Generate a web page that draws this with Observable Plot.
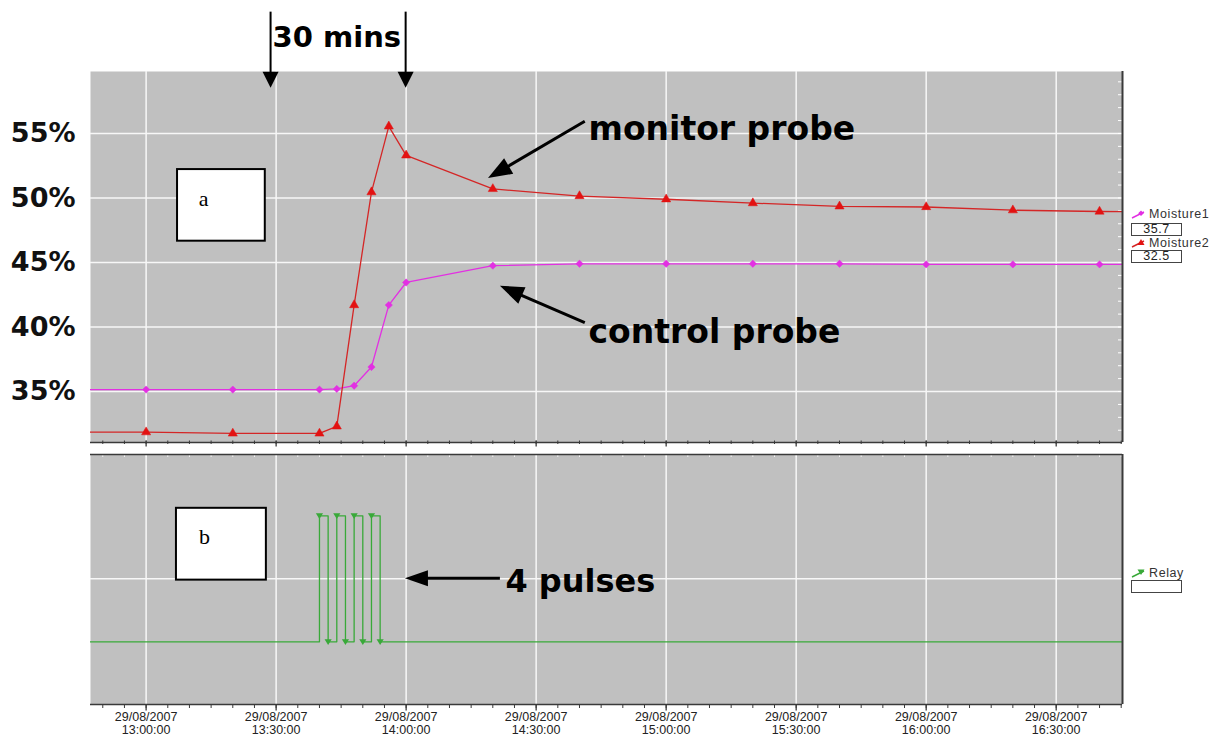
<!DOCTYPE html>
<html lang="en">
<head>
<meta charset="utf-8">
<title>Moisture probes and relay pulses, 29/08/2007</title>
<script src="https://cdn.jsdelivr.net/npm/d3@7"></script>
<script src="https://cdn.jsdelivr.net/npm/@observablehq/plot@0.6"></script>
<style>
  html, body { margin: 0; padding: 0; background: #fff; }
  #chart { position: relative; width: 1225px; height: 738px; overflow: hidden; background: #fff; }
  #chart > svg { position: absolute; left: 0; }
  .key { position: absolute; left: 1131px; height: 14px; display: flex; align-items: center;
         font: 12.5px Arial, "Liberation Sans", sans-serif; color: #333; letter-spacing: 0.6px; white-space: nowrap; }
  .key svg { width: 16px; height: 12px; margin-right: 2px; }
  .readout { position: absolute; left: 1131px; width: 49px; border: 1px solid #444; background: #fff;
             font: 12.5px Arial, "Liberation Sans", sans-serif; color: #222; text-align: center; letter-spacing: 0.6px; }
</style>
</head>
<body>
<div id="chart"></div>
<script>
// ---- logged data --------------------------------------------------------
const DAY = "2007-08-29";
const at = t => new Date(`${DAY}T${t.length === 5 ? t + ":00" : t}Z`);

// probe readings (time of day, % moisture)
const sampleTimes = ["12:40", "13:00", "13:20", "13:40", "13:44", "13:48", "13:52", "13:56", "14:00",
                     "14:20", "14:40", "15:00", "15:20", "15:40", "16:00", "16:20", "16:40", "17:00"];
const moisture1 = [35.15, 35.15, 35.15, 35.15, 35.2, 35.45, 36.9, 41.7, 43.45,
                   44.75, 44.9, 44.9, 44.9, 44.9, 44.85, 44.85, 44.85, 44.85];
const moisture2 = [31.85, 31.85, 31.75, 31.75, 32.3, 41.7, 50.45, 55.55, 53.3,
                   50.7, 50.15, 49.9, 49.6, 49.35, 49.3, 49.05, 48.95, 48.9];

// relay state (0 = off, 1 = on)
const relayTimes = ["12:40", "13:40", "13:42", "13:44", "13:46", "13:48", "13:50", "13:52", "13:54", "17:00"];
const relayState = [0, 1, 0, 1, 0, 1, 0, 1, 0, 0];

// axis ticks
const percentTicks = [35, 40, 45, 50, 55];
const halfHourTicks = ["13:00", "13:30", "14:00", "14:30", "15:00", "15:30", "16:00", "16:30"];

// legend readouts
const keyNames = ["Moisture1", "Moisture2", "Relay"];
const keyReadouts = ["35.7", "32.5", ""];

// ---- derived tables -----------------------------------------------------
const readings = sampleTimes.map((t, i) => ({time: at(t), m1: moisture1[i], m2: moisture2[i]}));
const relay = relayTimes.map((t, i) => ({time: at(t), state: relayState[i]}));

const xDomain = [at("12:47:10"), at("16:45:18")];
const yTop = [31.05, 59.8];
const yBottom = [-0.497, 1.487];
const halfHours = halfHourTicks.map(at);
const fiveMinutes = d3.utcMinute.every(5).range(xDomain[0], xDomain[1]);
const percentMinor = d3.range(32, 60);
const dateLabel = d3.utcFormat("%d/%m/%Y\n%H:%M:%S");

// ---- styling ------------------------------------------------------------
const W = 1225, ML = 90, MR = 103;
const GRAY = "#c0c0c0", GRID = "#f7f7f7", EDGE = "#3a3a3a";
const MAGENTA = "#e230e2", RED = "#e31212", REDLINE = "#d42626", GREEN = "#39a939";
const HAND = "DejaVu Sans, Verdana, sans-serif";
const SERIF = "Liberation Serif, Times New Roman, serif";
const SANS = "Arial, Liberation Sans, sans-serif";

// downward triangle used for the relay markers
const triangleDown = {
  draw(context, size) {
    const r = Math.sqrt(size / Math.PI);
    context.moveTo(-r, -r * 0.7);
    context.lineTo(r, -r * 0.7);
    context.lineTo(0, r * 0.9);
    context.closePath();
  }
};

// annotation arrows with filled heads, placed through the plot's scales
function arrows(list, yDomain, {stroke = "#000", strokeWidth = 3, head = 22, spread = 9} = {}) {
  return (index, scales, values, dims) => {
    const sx = typeof scales.x === "function" ? scales.x
      : d3.scaleUtc(xDomain, [dims.marginLeft, dims.width - dims.marginRight]);
    const sy = typeof scales.y === "function" ? scales.y
      : d3.scaleLinear(yDomain, [dims.height - dims.marginBottom, dims.marginTop]);
    const g = d3.create("svg:g");
    for (const a of list) {
      const x1 = sx(at(a.from[0])), y1 = sy(a.from[1]);
      const x2 = sx(at(a.to[0])), y2 = sy(a.to[1]);
      const ang = Math.atan2(y2 - y1, x2 - x1), c = Math.cos(ang), s = Math.sin(ang);
      const bx = x2 - head * c, by = y2 - head * s;
      g.append("line")
        .attr("x1", x1).attr("y1", y1).attr("x2", bx + c).attr("y2", by + s)
        .attr("stroke", stroke).attr("stroke-width", strokeWidth);
      g.append("path")
        .attr("d", `M${x2},${y2}L${bx - spread * s},${by + spread * c}L${bx + spread * s},${by - spread * c}Z`)
        .attr("fill", stroke);
    }
    return g.node();
  };
}

// ---- annotations (time, value) -----------------------------------------
const spanArrows = [
  {from: ["13:28:50", 64.4], to: ["13:28:50", 58.5]},
  {from: ["14:00", 64.4], to: ["14:00", 58.5]}
];
const probeArrows = [
  {from: ["14:41:20", 55.9], to: ["14:19:00", 51.5]},
  {from: ["14:41:20", 40.3], to: ["14:21:45", 43.15]}
];
const pulseArrows = [{from: ["14:21:45", 0.5], to: ["13:59:50", 0.5]}];

const spanNote = [{t: "13:44", v: 62.4, text: "30 mins"}];
const probeNotes = [
  {t: "14:42:05", v: 55.3, text: "monitor probe"},
  {t: "14:42:05", v: 39.55, text: "control probe"}
];
const pulseNote = [{t: "14:22:55", v: 0.48, text: "4 pulses"}];
const panelA = [{x1: "13:07:15", x2: "13:27:30", y1: 46.65, y2: 52.2, lx: "13:13:15", ly: 49.95, label: "a"}];
const panelB = [{x1: "13:07:00", x2: "13:27:45", y1: 0.49, y2: 1.06, lx: "13:13:30", ly: 0.83, label: "b"}];

// ---- panel (a): moisture --------------------------------------------------
const topPanel = Plot.plot({
  width: W, height: 446,
  marginTop: 71, marginBottom: 4, marginLeft: ML, marginRight: MR,
  style: {background: "transparent", overflow: "visible"},
  x: {type: "utc", domain: xDomain, axis: null},
  y: {domain: yTop, axis: null},
  marks: [
    Plot.frame({fill: GRAY, stroke: "none"}),
    Plot.ruleX(halfHours, {x: d => d, stroke: GRID, strokeWidth: 1.5}),
    Plot.ruleY(percentTicks, {y: d => d, stroke: GRID, strokeWidth: 1.5}),
    Plot.tickY(percentMinor, {y: d => d, insetLeft: 1028, stroke: "#fff"}),
    Plot.line(readings, {x: "time", y: "m1", stroke: MAGENTA, strokeWidth: 1.3, clip: true}),
    Plot.line(readings, {x: "time", y: "m2", stroke: REDLINE, strokeWidth: 1.3, clip: true}),
    Plot.dot(readings, {x: "time", y: "m1", symbol: "diamond2", r: 3.3, fill: MAGENTA, stroke: MAGENTA, strokeWidth: 0.5, clip: true}),
    Plot.dot(readings, {x: "time", y: "m2", symbol: "triangle", r: 3.4, fill: RED, stroke: RED, strokeWidth: 0.5, clip: true}),
    Plot.ruleY([yTop[0]], {stroke: EDGE, strokeWidth: 1.5}),
    Plot.tickX(fiveMinutes, {x: d => d, insetTop: 369.5, insetBottom: -2, stroke: EDGE}),
    Plot.tickX(halfHours, {x: d => d, insetTop: 369.5, insetBottom: -4.5, stroke: EDGE, strokeWidth: 1.3}),
    Plot.ruleX([xDomain[1]], {stroke: EDGE, strokeWidth: 2}),
    Plot.text(percentTicks, {y: d => d, frameAnchor: "left", dx: -15, textAnchor: "end",
      text: d => `${d}%`, fontSize: 27, fontWeight: "bold", fontFamily: HAND, fill: "#111"}),
    Plot.rect(panelA, {x1: d => at(d.x1), x2: d => at(d.x2), y1: "y1", y2: "y2", fill: "#fff", stroke: "#000", strokeWidth: 2}),
    Plot.text(panelA, {x: d => at(d.lx), y: "ly", text: "label", fontSize: 22, fontFamily: SERIF, fill: "#000"}),
    Plot.text(spanNote, {x: d => at(d.t), y: "v", text: "text", textAnchor: "middle",
      fontSize: 29, fontWeight: "bold", fontFamily: HAND, fill: "#000"}),
    Plot.text(probeNotes, {x: d => at(d.t), y: "v", text: "text", textAnchor: "start",
      fontSize: 33, fontWeight: "bold", fontFamily: HAND, fill: "#000"}),
    arrows(spanArrows, yTop, {strokeWidth: 2, head: 16, spread: 8}),
    arrows(probeArrows, yTop, {strokeWidth: 3, head: 24, spread: 9})
  ]
});

// ---- panel (b): relay -----------------------------------------------------
const bottomPanel = Plot.plot({
  width: W, height: 292,
  marginTop: 8, marginBottom: 34, marginLeft: ML, marginRight: MR,
  style: {background: "transparent", overflow: "visible"},
  x: {type: "utc", domain: xDomain, axis: null},
  y: {domain: yBottom, axis: null},
  marks: [
    Plot.frame({fill: GRAY, stroke: "none"}),
    Plot.ruleX(halfHours, {x: d => d, stroke: GRID, strokeWidth: 1.5}),
    Plot.ruleY([0.5], {y: d => d, stroke: GRID, strokeWidth: 1.5}),
    Plot.tickX(fiveMinutes, {x: d => d, insetBottom: 247, stroke: "#fff", strokeOpacity: 0.8}),
    Plot.line(relay, {x: "time", y: "state", curve: "step-after", stroke: GREEN, strokeWidth: 1.3, clip: true}),
    Plot.dot(relay, {x: "time", y: "state", symbol: triangleDown, r: 3.6, fill: GREEN, stroke: "none", clip: true}),
    Plot.ruleY([yBottom[1]], {stroke: EDGE, strokeWidth: 1.5}),
    Plot.ruleY([yBottom[0]], {stroke: EDGE, strokeWidth: 1.5}),
    Plot.ruleX([xDomain[1]], {stroke: EDGE, strokeWidth: 2}),
    Plot.tickX(fiveMinutes, {x: d => d, insetTop: 250, insetBottom: -4, stroke: EDGE}),
    Plot.tickX(halfHours, {x: d => d, insetTop: 250, insetBottom: -6.5, stroke: EDGE, strokeWidth: 1.3}),
    Plot.text(halfHours, {x: d => d, frameAnchor: "bottom", dy: 7.5, lineAnchor: "top", text: dateLabel,
      fontSize: 12.5, lineHeight: 1.05, fill: "#222", fontFamily: SANS}),
    Plot.rect(panelB, {x1: d => at(d.x1), x2: d => at(d.x2), y1: "y1", y2: "y2", fill: "#fff", stroke: "#000", strokeWidth: 2}),
    Plot.text(panelB, {x: d => at(d.lx), y: "ly", text: "label", fontSize: 22, fontFamily: SERIF, fill: "#000"}),
    Plot.text(pulseNote, {x: d => at(d.t), y: "v", text: "text", textAnchor: "start",
      fontSize: 32, fontWeight: "bold", fontFamily: HAND, fill: "#000"}),
    arrows(pulseArrows, yBottom, {strokeWidth: 3, head: 23, spread: 8})
  ]
});

const chart = document.getElementById("chart");
topPanel.style.top = "0px";
bottomPanel.style.top = "446px";
chart.append(topPanel, bottomPanel);

// ---- series key with current readouts ------------------------------------
const keyIcons = [
  `<line x1="1" y1="10" x2="13" y2="4" stroke="${MAGENTA}" stroke-width="1.5"/><path d="M10,2.5L12.8,5.3L10,8.1L7.2,5.3Z" fill="${MAGENTA}"/>`,
  `<line x1="1" y1="10" x2="13" y2="4" stroke="${REDLINE}" stroke-width="1.5"/><path d="M10,2L13.5,8L6.5,8Z" fill="${RED}"/>`,
  `<line x1="1" y1="10" x2="13" y2="4" stroke="${GREEN}" stroke-width="1.5"/><path d="M6.5,2.5L13.5,2.5L10,8Z" fill="${GREEN}"/>`
];
const keyTops = [207, 236, 566];
const readoutTops = [223, 250, 580];
keyNames.forEach((name, i) => {
  const key = document.createElement("div");
  key.className = "key";
  key.style.top = keyTops[i] + "px";
  key.innerHTML = `<svg viewBox="0 0 16 12">${keyIcons[i]}</svg><span>${name}</span>`;
  chart.append(key);
  const box = document.createElement("div");
  box.className = "readout";
  box.style.top = readoutTops[i] + "px";
  box.style.height = "11px";
  box.style.lineHeight = "11px";
  box.textContent = keyReadouts[i];
  chart.append(box);
});
</script>
</body>
</html>
